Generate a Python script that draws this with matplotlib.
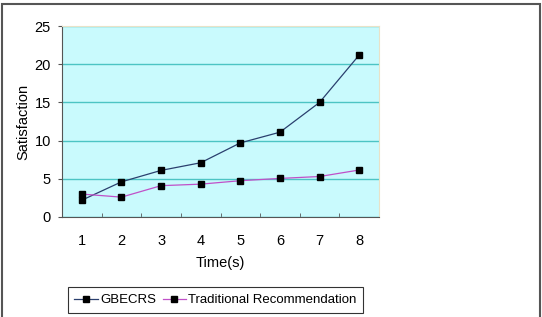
import matplotlib.pyplot as plt
from matplotlib.patches import Rectangle

plt.rcParams["font.family"] = ["Liberation Sans", "DejaVu Sans"]

times = [1, 2, 3, 4, 5, 6, 7, 8]
gbecrs = [2.2, 4.6, 6.1, 7.1, 9.7, 11.1, 15.0, 21.2]
traditional = [3.0, 2.6, 4.1, 4.3, 4.75, 5.05, 5.3, 6.15]

fig = plt.figure(figsize=(5.42, 3.17), dpi=100)
ax = fig.add_axes([62 / 542, 100 / 317, 317 / 542, 191 / 317])
ax.set_facecolor("#c9fafd")

ax.plot(times, gbecrs, color="#2a3f6e", lw=0.9, marker="s", ms=5,
        mfc="black", mec="black", label="GBECRS", zorder=3)
ax.plot(times, traditional, color="#c050c8", lw=0.9, marker="s", ms=5,
        mfc="black", mec="black", label="Traditional Recommendation", zorder=3)

ax.set_xlim(0.5, 8.5)
ax.set_ylim(0, 25)
ax.set_yticks([0, 5, 10, 15, 20, 25])
ax.set_xticks(times)
ax.set_xticks([1.5, 2.5, 3.5, 4.5, 5.5, 6.5, 7.5], minor=True)
ax.tick_params(axis="x", which="major", length=0, pad=12, labelsize=10.5)
ax.tick_params(axis="x", which="minor", direction="in", length=3, color="#555555")
ax.tick_params(axis="y", length=3, color="#555555", pad=5, labelsize=10.5)
ax.yaxis.grid(True, color="#4cc4c4", lw=1)
ax.set_axisbelow(True)

for s in ["left", "bottom"]:
    ax.spines[s].set_color("#555555")
for s in ["top", "right"]:
    ax.spines[s].set_color("#e8e2c8")

ax.set_xlabel("Time(s)", fontsize=10.5, labelpad=6)
ax.set_ylabel("Satisfaction", fontsize=10.5, labelpad=3)

leg = fig.legend(loc="center", bbox_to_anchor=(215.5 / 542, 17 / 317), ncol=2,
                 fontsize=9.5, frameon=True, fancybox=False, edgecolor="black",
                 handlelength=1.8, handletextpad=0.15, columnspacing=0.5,
                 borderpad=0.5, borderaxespad=0)
leg.get_frame().set_linewidth(0.8)

fig.patches.append(Rectangle((2 / 542, -0.05), 538 / 542, 1.05 - 4 / 317,
                             transform=fig.transFigure, fill=False,
                             edgecolor="#555555", lw=1.5))

fig.savefig("out.png", dpi=100)
